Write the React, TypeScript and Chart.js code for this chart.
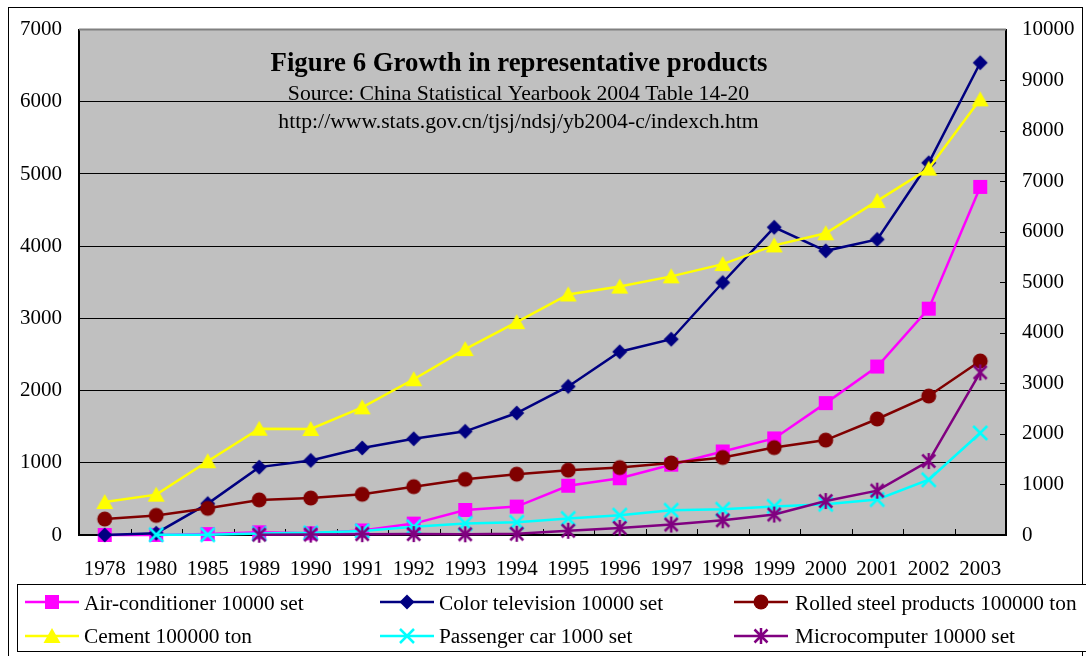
import { useEffect, useRef } from "react";
import { Chart, registerables } from "chart.js";

Chart.register(...registerables);

const years = ["1978", "1980", "1985", "1989", "1990", "1991", "1992", "1993", "1994", "1995", "1996", "1997", "1998", "1999", "2000", "2001", "2002", "2003"];
const airConditioner = [0.02, 1.32, 12.35, 37.47, 24.07, 63.03, 158.03, 346.41, 393.42, 682.56, 786.21, 974.01, 1156.87, 1337.64, 1826.67, 2333.64, 3135.11, 4820.86];
const colorTelevision = [0.38, 24.9, 435.28, 940.02, 1033.04, 1205.06, 1333.08, 1435.76, 1689.15, 2057.74, 2537.6, 2711.33, 3497, 4262, 3936, 4094, 5155, 6541];
const rolledSteel = [220.8, 271.6, 369.3, 485.9, 512.1, 563.8, 669.7, 771.6, 842.8, 898, 933.8, 997.9, 1073.8, 1211, 1314.6, 1606.8, 1925.2, 2410.8];
const cement = [652.4, 798.6, 1459.5, 2102.9, 2097.1, 2526.1, 3082.2, 3678.8, 4211.8, 4759.1, 4915.6, 5117.4, 5360, 5730, 5970, 6610, 7250, 8620];
const passengerCar = [null, 5.4, 5.2, 28.8, 42.4, 81.1, 162.7, 229.7, 250.3, 325.5, 391.1, 487.7, 507.9, 566.1, 607.5, 703.5, 1092.8, 2018.7];
const microcomputer = [null, null, null, 5, 8.21, 16.25, 18.5, 14.66, 24.61, 83.57, 138.83, 206.55, 291.4, 404.7, 672, 877.7, 1463.5, 3216.7];

const seriesNames = [
  "Air-conditioner 10000 set",
  "Color television 10000 set",
  "Rolled steel products 100000 ton",
  "Cement 100000 ton",
  "Passenger car 1000 set",
  "Microcomputer 10000 set",
];
const seriesColors = ["#FF00FF", "#000080", "#800000", "#FFFF00", "#00FFFF", "#800080"];
const seriesMarkers = ["square", "diamond", "circle", "triangle", "x", "star"];
const seriesAxes = ["y", "y", "y", "y2", "y2", "y2"];

const titleText = "Figure 6 Growth in representative products";
const sourceText = "Source: China Statistical Yearbook 2004 Table 14-20";
const urlText = "http://www.stats.gov.cn/tjsj/ndsj/yb2004-c/indexch.htm";

const FONT = "'Liberation Serif', 'Times New Roman', serif";

function drawMarker(ctx: CanvasRenderingContext2D, kind: string, color: string, x: number, y: number) {
  ctx.save();
  ctx.fillStyle = color;
  ctx.strokeStyle = color;
  ctx.lineWidth = 2.5;
  ctx.beginPath();
  if (kind === "square") {
    ctx.rect(x - 7, y - 7, 14, 14);
    ctx.fill();
  } else if (kind === "diamond") {
    ctx.moveTo(x, y - 7.5);
    ctx.lineTo(x + 7.5, y);
    ctx.lineTo(x, y + 7.5);
    ctx.lineTo(x - 7.5, y);
    ctx.closePath();
    ctx.fill();
  } else if (kind === "circle") {
    ctx.arc(x, y, 7.5, 0, Math.PI * 2);
    ctx.fill();
  } else if (kind === "triangle") {
    ctx.moveTo(x, y - 8);
    ctx.lineTo(x + 8.5, y + 7);
    ctx.lineTo(x - 8.5, y + 7);
    ctx.closePath();
    ctx.fill();
  } else if (kind === "x") {
    ctx.moveTo(x - 7, y - 7);
    ctx.lineTo(x + 7, y + 7);
    ctx.moveTo(x + 7, y - 7);
    ctx.lineTo(x - 7, y + 7);
    ctx.stroke();
  } else if (kind === "star") {
    ctx.moveTo(x - 6.5, y - 6.5);
    ctx.lineTo(x + 6.5, y + 6.5);
    ctx.moveTo(x + 6.5, y - 6.5);
    ctx.lineTo(x - 6.5, y + 6.5);
    ctx.moveTo(x, y - 8);
    ctx.lineTo(x, y + 8);
    ctx.stroke();
  }
  ctx.restore();
}

function makeMarkerCanvas(kind: string, color: string) {
  const c = document.createElement("canvas");
  c.width = 24;
  c.height = 24;
  const ctx = c.getContext("2d")!;
  drawMarker(ctx, kind, color, 12, 12);
  return c;
}

const decorPlugin = {
  id: "decor",
  beforeDraw(chart: any) {
    const { ctx, chartArea } = chart;
    ctx.save();
    ctx.fillStyle = "#FFFFFF";
    ctx.fillRect(0, 0, chart.width, chart.height);
    ctx.fillStyle = "#C0C0C0";
    ctx.fillRect(chartArea.left, chartArea.top, chartArea.right - chartArea.left, chartArea.bottom - chartArea.top);
    ctx.strokeStyle = "#000";
    ctx.lineWidth = 1;
    ctx.strokeRect(8.5, 7.5, 1074, 660);
    ctx.restore();
  },
  beforeDatasetsDraw(chart: any) {
    const { ctx, chartArea } = chart;
    const y2 = chart.scales.y2;
    ctx.save();
    ctx.strokeStyle = "#808080";
    ctx.lineWidth = 2;
    ctx.beginPath();
    ctx.moveTo(chartArea.left, chartArea.top);
    ctx.lineTo(chartArea.right, chartArea.top);
    ctx.stroke();
    ctx.strokeStyle = "#000";
    ctx.lineWidth = 1;
    const n = years.length;
    const step = (chartArea.right - chartArea.left) / n;
    ctx.beginPath();
    for (let i = 1; i < n; i++) {
      const px = Math.round(chartArea.left + i * step) + 0.5;
      ctx.moveTo(px, chartArea.bottom);
      ctx.lineTo(px, chartArea.bottom - 6);
    }
    for (let v = 1000; v < 10000; v += 1000) {
      const py = Math.round(y2.getPixelForValue(v)) + 0.5;
      ctx.moveTo(chartArea.right, py);
      ctx.lineTo(chartArea.right - 6, py);
    }
    ctx.stroke();
    ctx.restore();
  },
  afterDraw(chart: any) {
    const { ctx } = chart;
    ctx.save();
    ctx.fillStyle = "#000";
    ctx.textAlign = "center";
    ctx.textBaseline = "alphabetic";
    ctx.font = `bold 26.8px ${FONT}`;
    ctx.fillText(titleText, 519, 71);
    ctx.font = `21.7px ${FONT}`;
    ctx.fillText(sourceText, 518.5, 99.5);
    ctx.fillText(urlText, 518.5, 128);

    ctx.fillStyle = "#FFFFFF";
    ctx.fillRect(17, 584, 1080, 68);
    ctx.strokeStyle = "#000";
    ctx.lineWidth = 1;
    ctx.strokeRect(17.5, 584.5, 1080, 67);

    const lineStarts = [25, 380, 734];
    const textStarts = [84, 439, 795];
    const rows = [602, 636];
    const baselines = [609.5, 643];
    ctx.font = `21.3px ${FONT}`;
    ctx.textAlign = "left";
    for (let i = 0; i < seriesNames.length; i++) {
      const col = i % 3;
      const row = Math.floor(i / 3);
      const lx = lineStarts[col];
      const ly = rows[row];
      ctx.strokeStyle = seriesColors[i];
      ctx.lineWidth = 2.5;
      ctx.beginPath();
      ctx.moveTo(lx, ly);
      ctx.lineTo(lx + 54, ly);
      ctx.stroke();
      drawMarker(ctx, seriesMarkers[i], seriesColors[i], lx + 27, ly);
      ctx.fillStyle = "#000";
      ctx.fillText(seriesNames[i], textStarts[col], baselines[row]);
    }
    ctx.restore();
  },
};

export default function App() {
  const canvasRef = useRef<HTMLCanvasElement | null>(null);

  useEffect(() => {
    if (!canvasRef.current) return;
    const dataArrays = [airConditioner, colorTelevision, rolledSteel, cement, passengerCar, microcomputer];
    const datasets = dataArrays.map((d, i) => ({
      label: seriesNames[i],
      data: d,
      borderColor: seriesColors[i],
      backgroundColor: seriesColors[i],
      borderWidth: 2.5,
      pointStyle: makeMarkerCanvas(seriesMarkers[i], seriesColors[i]),
      pointRadius: 8,
      pointHoverRadius: 8,
      yAxisID: seriesAxes[i],
      order: 10 - i,
      clip: false as any,
      tension: 0,
      spanGaps: false,
    }));

    const tickFont = { family: FONT, size: 21 };
    const plain = (v: any) => String(v);

    const chart = new Chart(canvasRef.current, {
      type: "line",
      data: { labels: years, datasets: datasets as any },
      options: {
        responsive: false,
        maintainAspectRatio: false,
        animation: false,
        events: [],
        layout: { padding: { left: 0, right: 0, top: 25, bottom: 71 } },
        plugins: {
          legend: { display: false },
          title: { display: false },
          tooltip: { enabled: false },
        },
        scales: {
          x: {
            type: "category",
            offset: true,
            grid: { display: false, drawTicks: false },
            border: { display: true, color: "#000", width: 2 },
            ticks: { font: tickFont, color: "#000", padding: 22, maxRotation: 0, autoSkip: false },
            afterFit: (s: any) => {
              s.height = 50;
            },
          },
          y: {
            position: "left",
            min: 0,
            max: 7000,
            ticks: { stepSize: 1000, font: tickFont, color: "#000", padding: 17, callback: plain },
            grid: {
              color: (c: any) => (c.tick && c.tick.value === 7000 ? "rgba(0,0,0,0)" : "#000"),
              lineWidth: 1,
              drawTicks: false,
            },
            border: { display: true, color: "#000", width: 2 },
            afterFit: (s: any) => {
              s.width = 79;
            },
          },
          y2: {
            position: "right",
            min: 0,
            max: 10000,
            ticks: { stepSize: 1000, font: tickFont, color: "#000", padding: 16, callback: plain },
            grid: { display: false, drawTicks: false },
            border: { display: true, color: "#000", width: 2 },
            afterFit: (s: any) => {
              s.width = 80;
            },
          },
        },
      },
      plugins: [decorPlugin],
    });
    return () => chart.destroy();
  }, []);

  return (
    <div style={{ position: "absolute", left: 0, top: 0, width: 1086, height: 656 }}>
      <canvas ref={canvasRef} width={1086} height={656} style={{ width: 1086, height: 656, display: "block" }} />
    </div>
  );
}
